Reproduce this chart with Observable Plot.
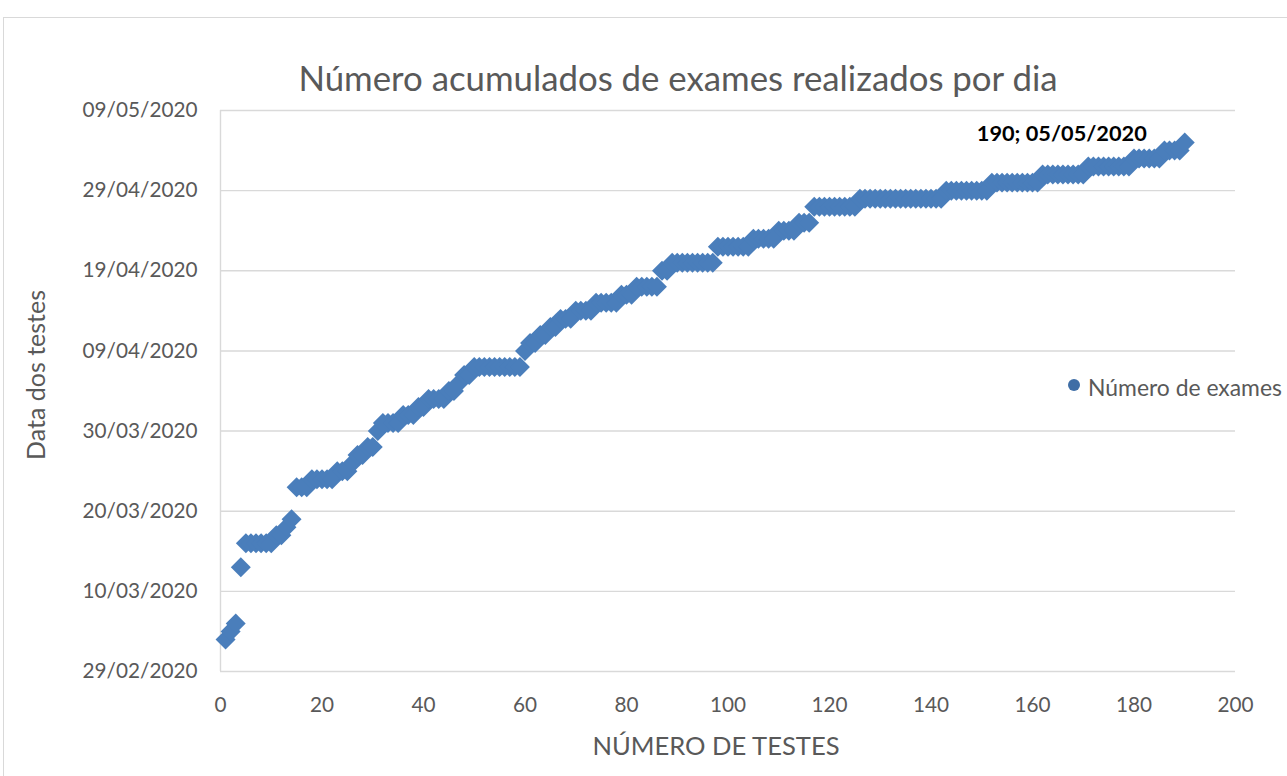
<!DOCTYPE html>
<html><head><meta charset="utf-8">
<script src="https://cdn.jsdelivr.net/npm/d3@7"></script>
<script src="https://cdn.jsdelivr.net/npm/@observablehq/plot@0.6"></script>
<style>
html,body{margin:0;padding:0;background:#fff;overflow:hidden;width:1287px;height:776px;position:relative;font-family:Lato, sans-serif;}
#frame{position:absolute;left:3px;top:17px;width:1400px;height:900px;border:1px solid #d9d9d9;box-sizing:border-box;}
#chart{position:absolute;left:0;top:0;}
.lbl{position:absolute;white-space:nowrap;color:#595959;transform:translate(-50%,-50%);line-height:1;}
</style></head><body>
<div id="frame"></div>
<div id="chart"></div>
<script>
// Data: test dates and number of tests per date (cumulative test number on x)
const dias = ["04/03/2020","05/03/2020","06/03/2020","13/03/2020","16/03/2020","17/03/2020","18/03/2020","19/03/2020",
  "23/03/2020","24/03/2020","25/03/2020","26/03/2020","27/03/2020","28/03/2020","30/03/2020","31/03/2020",
  "01/04/2020","02/04/2020","03/04/2020","04/04/2020","05/04/2020","06/04/2020","07/04/2020","09/04/2020",
  "10/04/2020","11/04/2020","12/04/2020","13/04/2020","14/04/2020","15/04/2020","16/04/2020","17/04/2020",
  "19/04/2020","20/04/2020","22/04/2020","23/04/2020","24/04/2020","25/04/2020","27/04/2020","28/04/2020",
  "29/04/2020","30/04/2020","01/05/2020","02/05/2020","03/05/2020","04/05/2020","05/05/2020"];
const exames = [1,1,1,1,6,2,1,1,
  3,5,3,1,2,2,1,4,
  3,2,4,2,1,2,10,1,
  2,2,2,3,4,5,3,5,
  2,9,7,5,4,3,9,17,
  9,10,9,9,6,4,1];
const yTicks = ["29/02/2020","10/03/2020","20/03/2020","30/03/2020","09/04/2020","19/04/2020","29/04/2020","09/05/2020"];
const xTicks = [0,20,40,60,80,100,120,140,160,180,200];
const titulo = "Número acumulados de exames realizados por dia";
const tituloX = "NÚMERO DE TESTES";
const tituloY = "Data dos testes";
const serie = "Número de exames";

const parse = d3.utcParse("%d/%m/%Y");
const fmt = d3.utcFormat("%d/%m/%Y");
const pontos = [];
let n = 0;
dias.forEach((d, i) => { for (let k = 0; k < exames[i]; k++) { n++; pontos.push({n, data: parse(d)}); } });
const ultimo = pontos[pontos.length - 1];
const yTickDates = yTicks.map(parse);

const ctx = document.createElement("canvas").getContext("2d");
function fit(text, weight, target) {
  ctx.font = `${weight} 100px Lato`;
  return 100 * target / ctx.measureText(text).width;
}
const tickFs = fit("29/02/2020", "normal", 115);
const labelFs = fit(`${ultimo.n}; ${fmt(ultimo.data)}`, "bold", 170);

const chart = Plot.plot({
  width: 1287, height: 776,
  marginLeft: 220, marginRight: 52, marginTop: 110, marginBottom: 105,
  style: {fontFamily: "Lato", background: "transparent", color: "#595959", overflow: "visible"},
  x: {domain: [0, 200]},
  y: {type: "utc", domain: [yTickDates[0], yTickDates[yTickDates.length - 1]]},
  marks: [
    Plot.gridY(yTickDates, {stroke: "#d9d9d9", strokeOpacity: 1, strokeWidth: 1.4}),
    Plot.ruleX([0], {stroke: "#d9d9d9", strokeWidth: 1.4}),
    Plot.axisY(yTickDates, {tickSize: 0, tickPadding: 23, tickFormat: fmt, fontSize: tickFs, label: null}),
    Plot.axisX(xTicks, {tickSize: 0, tickPadding: 26, fontSize: tickFs, label: null}),
    Plot.dot(pontos, {x: "n", y: "data", symbol: "diamond2", r: 9, fill: "#4a7ebb", stroke: null}),
    Plot.text([ultimo], {x: "n", y: "data", text: d => `${d.n}; ${fmt(d.data)}`, textAnchor: "end",
      dx: -38, dy: -9, fontWeight: "bold", fontSize: labelFs, fill: "#000"})
  ]
});
document.getElementById("chart").appendChild(chart);

function addLabel(text, x, y, target, extra) {
  const el = document.createElement("div");
  el.className = "lbl";
  el.textContent = text;
  el.style.left = x + "px";
  el.style.top = y + "px";
  el.style.fontSize = fit(text, "normal", target) + "px";
  if (extra) Object.assign(el.style, extra);
  document.body.appendChild(el);
  return el;
}
addLabel(titulo, 678, 78, 760);
addLabel(tituloX, 716, 746, 248);
addLabel(tituloY, 35, 375, 170, {transform: "translate(-50%,-50%) rotate(-90deg)"});
addLabel(serie, 1185, 387, 194);
const mk = document.createElement("div");
mk.style.cssText = "position:absolute;left:1068px;top:379px;width:12px;height:12px;border-radius:50%;background:#3f6ea6;";
document.body.appendChild(mk);
</script>
</body></html>
